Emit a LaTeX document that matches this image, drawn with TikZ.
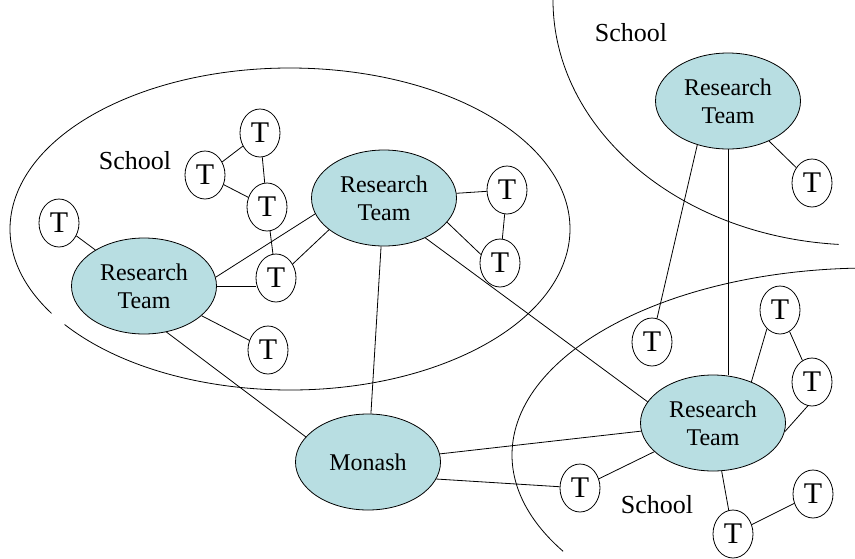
\documentclass[tikz,border=0pt]{standalone}
\usepackage{fontspec}
\setmainfont{Liberation Serif}
\usetikzlibrary{shapes.geometric}
\definecolor{teamfill}{RGB}{184,222,226}

\begin{document}
\begin{tikzpicture}[x=1pt, y=1pt, line width=0.8pt]
    \tikzstyle{team} = [draw, ellipse, fill=teamfill, minimum width=145pt, minimum height=96pt, inner sep=0pt, align=center, font=\fontsize{24}{28}\selectfont]
    \tikzstyle{member} = [draw, ellipse, fill=white, minimum width=40pt, minimum height=48pt, inner sep=0pt, font=\fontsize{30}{30}\selectfont]
    \tikzstyle{schooltext} = [font=\fontsize{26}{26}\selectfont]

    \useasboundingbox (0,0) rectangle (855,-558);

    % school boundaries
    \draw (290,-229) ++(216.4:280 and 161) arc[start angle=216.4, end angle=571.6, x radius=280, y radius=161];
    \draw (553,0) arc[start angle=180, end angle=266, x radius=307, y radius=245];
    \draw (870,-268) arc[start angle=90, end angle=211, x radius=358, y radius=187];

    \node[schooltext] (S1) at (135,-161) {School};
    \node[schooltext] (S2) at (631,-33) {School};
    \node[schooltext] (S3) at (657,-505) {School};

    \begin{scope}
        \path[-]
          node[team] (M) at (368,-462) {Monash}
          node[team] (R1) at (144,-286) {Research\\Team}
          node[team] (R2) at (384,-198) {Research\\Team}
          node[team] (R3) at (728,-101) {Research\\Team}
          node[team] (R4) at (713,-423) {Research\\Team}

          node[member] (T1) at (59,-223) {T}
          node[member] (T2) at (260,-133) {T}
          node[member] (T3) at (205,-175) {T}
          node[member] (T4) at (267,-207) {T}
          node[member] (T5) at (276,-278) {T}
          node[member] (T6) at (268,-350) {T}
          node[member] (T7) at (507,-190) {T}
          node[member] (T8) at (500,-263) {T}
          node[member] (T9) at (812,-183) {T}
          node[member] (T10) at (652,-342) {T}
          node[member] (T11) at (780,-310) {T}
          node[member] (T12) at (812,-382) {T}
          node[member] (T13) at (580,-488) {T}
          node[member] (T14) at (733,-534) {T}
          node[member] (T15) at (813,-494) {T}

          (T1) edge (R1)
          (T3) edge (T2)
          (T2) edge (T4)
          (T3) edge (T4)
          (T4) edge (T5)
          (R1.east) edge (R1.east -| T5.west)
          (R1.7) edge (R2.193)
          (T5.40) edge (R2.210)
          (R1) edge (T6)
          (R1.-64) edge (M.158)
          (R2) edge (T7)
          (T7) edge (T8)
          (R2.-21) edge (T8.156)
          (R2) edge (M)
          (R2.-44) edge (R4.162)
          (R3) edge (T9)
          (R3.235) edge (T10.78)
          (R3.south) edge (R3.south |- R4.north)
          (R4.47) edge (T11.235)
          (T11) edge (T12)
          (R4.-7) edge (T12.260)
          (M) edge (R4)
          (M.-14) edge (T13)
          (T13) edge (R4)
          (R4) edge (T14)
          (T14) edge (T15);
    \end{scope}
\end{tikzpicture}
\end{document}
